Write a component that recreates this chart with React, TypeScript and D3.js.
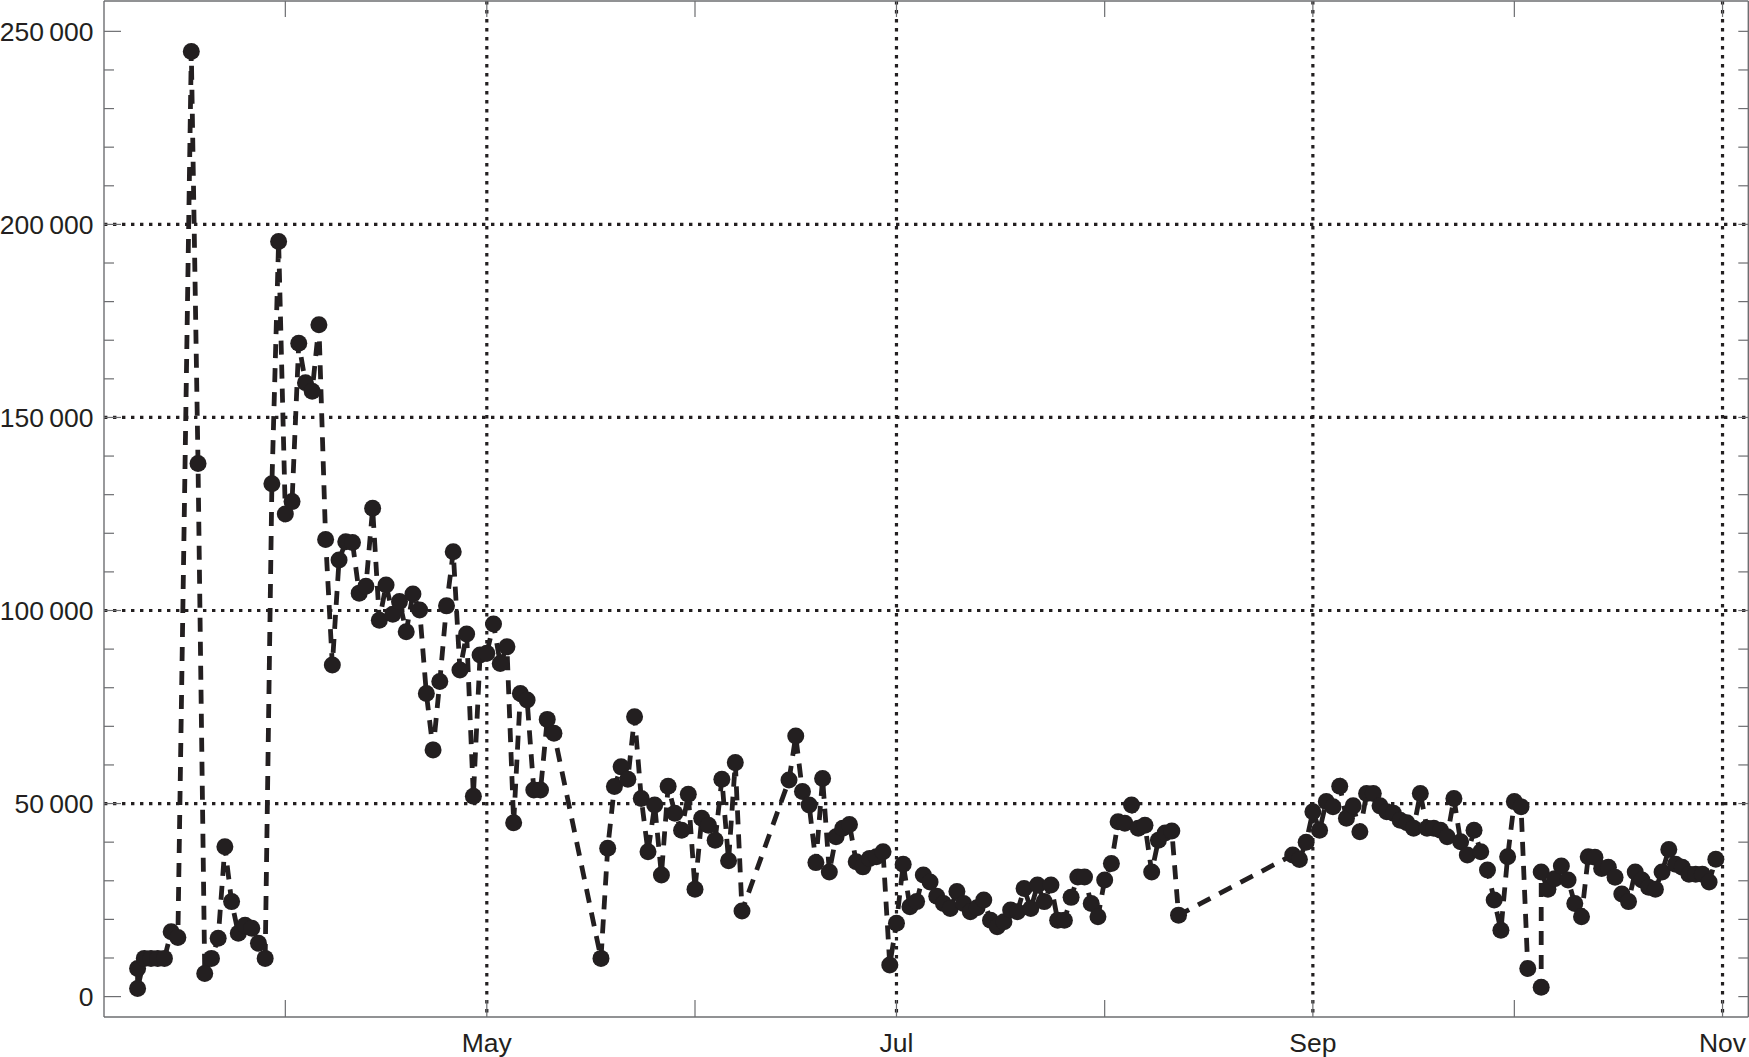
import React from "react";
import * as d3 from "d3";

const dates: string[] = [
  "2020-03-10","2020-03-10","2020-03-11","2020-03-12","2020-03-13","2020-03-14","2020-03-15","2020-03-16",
  "2020-03-18","2020-03-19","2020-03-20","2020-03-21","2020-03-22","2020-03-23","2020-03-24","2020-03-25",
  "2020-03-26","2020-03-27","2020-03-28","2020-03-29","2020-03-30","2020-03-31",
  "2020-04-01","2020-04-02","2020-04-03","2020-04-04","2020-04-05","2020-04-06","2020-04-07","2020-04-08",
  "2020-04-09","2020-04-10","2020-04-11","2020-04-12","2020-04-13","2020-04-14","2020-04-15","2020-04-16",
  "2020-04-17","2020-04-18","2020-04-19","2020-04-20","2020-04-21","2020-04-22","2020-04-23","2020-04-24",
  "2020-04-25","2020-04-26","2020-04-27","2020-04-28","2020-04-29","2020-04-30",
  "2020-05-01","2020-05-02","2020-05-03","2020-05-04","2020-05-05","2020-05-06","2020-05-07","2020-05-08",
  "2020-05-09","2020-05-10","2020-05-11",
  "2020-05-18","2020-05-19","2020-05-20","2020-05-21","2020-05-22","2020-05-23","2020-05-24","2020-05-25",
  "2020-05-26","2020-05-27","2020-05-28","2020-05-29","2020-05-30","2020-05-31",
  "2020-06-01","2020-06-02","2020-06-03","2020-06-04","2020-06-05","2020-06-06","2020-06-07","2020-06-08",
  "2020-06-15","2020-06-16","2020-06-17","2020-06-18","2020-06-19","2020-06-20","2020-06-21","2020-06-22",
  "2020-06-23","2020-06-24","2020-06-25","2020-06-26","2020-06-27","2020-06-28","2020-06-29","2020-06-30",
  "2020-07-01","2020-07-02","2020-07-03","2020-07-04","2020-07-05","2020-07-06","2020-07-07","2020-07-08",
  "2020-07-09","2020-07-10","2020-07-11","2020-07-12","2020-07-13","2020-07-14","2020-07-15","2020-07-16",
  "2020-07-17","2020-07-18","2020-07-19","2020-07-20","2020-07-21","2020-07-22","2020-07-23","2020-07-24",
  "2020-07-25","2020-07-26","2020-07-27","2020-07-28","2020-07-29","2020-07-30","2020-07-31",
  "2020-08-01","2020-08-02","2020-08-03","2020-08-04","2020-08-05","2020-08-06","2020-08-07","2020-08-08",
  "2020-08-09","2020-08-10","2020-08-11","2020-08-12",
  "2020-08-29","2020-08-30","2020-08-31",
  "2020-09-01","2020-09-02","2020-09-03","2020-09-04","2020-09-05","2020-09-06","2020-09-07","2020-09-08",
  "2020-09-09","2020-09-10","2020-09-11","2020-09-12","2020-09-13","2020-09-14","2020-09-15","2020-09-16",
  "2020-09-17","2020-09-18","2020-09-19","2020-09-20","2020-09-21","2020-09-22","2020-09-23","2020-09-24",
  "2020-09-25","2020-09-26","2020-09-27","2020-09-28","2020-09-29","2020-09-30",
  "2020-10-01","2020-10-02","2020-10-03","2020-10-05","2020-10-05","2020-10-06","2020-10-07","2020-10-08",
  "2020-10-09","2020-10-10","2020-10-11","2020-10-12","2020-10-13","2020-10-14","2020-10-15","2020-10-16",
  "2020-10-17","2020-10-18","2020-10-19","2020-10-20","2020-10-21","2020-10-22","2020-10-23","2020-10-24",
  "2020-10-25","2020-10-26","2020-10-27","2020-10-28","2020-10-29","2020-10-30","2020-10-31"
];

const values: number[] = [
  7300, 2100, 9900, 9900, 9900, 9900, 16800, 15300,
  244800, 138100, 6000, 9900, 15100, 38800, 24600, 16400,
  18500, 17700, 13800, 9900, 132800, 195600,
  125000, 128200, 169200, 159000, 156800, 174000, 118400, 85900,
  113100, 117800, 117600, 104500, 106300, 126500, 97500, 106600,
  99000, 102300, 94500, 104300, 100100, 78500, 63900, 81600,
  101200, 115200, 84600, 93900, 51900, 88500,
  88900, 96500, 86300, 90600, 45000, 78500, 76800, 53500,
  53500, 71800, 68200,
  9900, 38400, 54400, 59500, 56300, 72500, 51300, 37500,
  49600, 31500, 54500, 47500, 43100, 52400,
  27800, 46200, 44400, 40500, 56300, 35200, 60600, 22200,
  56100, 67500, 53100, 49600, 34700, 56500, 32300, 41400,
  43600, 44600, 34900, 33600, 35800, 36200, 37500, 8200,
  19000, 34300, 23300, 24600, 31500, 29700, 26000, 24100,
  22800, 27200, 24100, 22000, 23000, 25000, 19800, 18100,
  19400, 22400, 22000, 28000, 22800, 28900, 24600, 28900,
  19800, 19800, 25700, 31000, 31000, 24100, 20700,
  30200, 34500, 45300, 44900, 49600, 43600, 44400, 32300,
  40500, 42400, 42900, 21100,
  36700, 35500, 40000,
  47900, 43100, 50500, 49200, 54500, 46200, 49400, 42700,
  52600, 52600, 49400, 47900, 47500, 45700, 45000, 43600,
  52600, 43600, 43600, 43100, 41400, 51300, 40100, 36700,
  43100, 37500, 32800, 25000, 17200, 36200,
  50500, 49200, 7300, 2400, 32300, 27800, 30500, 33800,
  30200, 24100, 20700, 36200, 36100, 33200, 33500, 30900,
  26600, 24600, 32300, 30200, 28300, 27800, 32300, 38100,
  34300, 33500, 31700, 31700, 31700, 29700, 35600
];

const yMajorTicks: number[] = [0, 50000, 100000, 150000, 200000, 250000];
const yGridValues: number[] = [50000, 100000, 150000, 200000];
const monthTicks: string[] = ["2020-04-01", "2020-05-01", "2020-06-01", "2020-07-01", "2020-08-01", "2020-09-01", "2020-10-01", "2020-11-01"];
const monthLabels: string[] = ["2020-05-01", "2020-07-01", "2020-09-01", "2020-11-01"];
const xDomain: string[] = ["2020-03-05", "2020-11-05"];

const W = 1749;
const H = 1057;
const X0 = 104;
const X1 = 1749.4;
const YTOP = 1;
const YBOT = 1017;

const INK = "#231f20";
const FRAME = "#6d6e71";
const FONT = "'Liberation Sans', Arial, Helvetica, sans-serif";

const parse = d3.utcParse("%Y-%m-%d");
const fmt = (v: number) => d3.format(",")(v).replace(/,/g, "\u2009");
const monthName = d3.utcFormat("%b");

export default function App() {
  const x = d3.scaleUtc().domain(xDomain.map((s) => parse(s) as Date)).range([X0, X1]);
  const y = d3.scaleLinear().domain([0, 250000]).range([996.6, 31.35]);

  const pts = dates.map((d, i) => ({ date: parse(d) as Date, v: values[i] }));
  const line = d3
    .line<{ date: Date; v: number }>()
    .x((p) => x(p.date))
    .y((p) => y(p.v));

  const minorTicks = d3.range(0, 250001, 10000).filter((v) => v % 50000 !== 0);
  const xRight = 1748.3;

  return (
    <div style={{ position: "absolute", left: 0, top: 0, width: W, height: H, background: "#fff" }}>
      <svg width={W} height={H} style={{ display: "block" }}>
        <rect x={0} y={0} width={W} height={H} fill="#fff" />
        {yGridValues.map((v) => (
          <line
            key={"hg" + v}
            x1={X0}
            x2={xRight}
            y1={y(v)}
            y2={y(v)}
            stroke={INK}
            strokeWidth={3.2}
            strokeDasharray="3.4 5.6"
          />
        ))}
        {monthLabels.map((m) => (
          <line
            key={"vg" + m}
            x1={x(parse(m) as Date)}
            x2={x(parse(m) as Date)}
            y1={YTOP}
            y2={YBOT}
            stroke={INK}
            strokeWidth={3.2}
            strokeDasharray="3.4 5.6"
          />
        ))}
        <line x1={X0} x2={X0} y1={YTOP} y2={YBOT} stroke={FRAME} strokeWidth={1.4} />
        <line x1={X0} x2={xRight} y1={YBOT} y2={YBOT} stroke={FRAME} strokeWidth={1.4} />
        <line x1={X0} x2={xRight} y1={YTOP} y2={YTOP} stroke={FRAME} strokeWidth={1.4} />
        <line x1={xRight} x2={xRight} y1={YTOP} y2={YBOT} stroke={FRAME} strokeWidth={1.4} />
        {yMajorTicks.map((v) => (
          <line key={"ylM" + v} x1={X0} x2={X0 + 17} y1={y(v)} y2={y(v)} stroke={FRAME} strokeWidth={1.2} />
        ))}
        {minorTicks.map((v) => (
          <line key={"ylm" + v} x1={X0} x2={X0 + 10} y1={y(v)} y2={y(v)} stroke={FRAME} strokeWidth={1.2} />
        ))}
        {yMajorTicks.concat(minorTicks).map((v) => (
          <line key={"yr" + v} x1={xRight} x2={xRight - 10} y1={y(v)} y2={y(v)} stroke={FRAME} strokeWidth={1.2} />
        ))}
        {monthTicks.map((m) => {
          const xx = x(parse(m) as Date);
          return (
            <g key={"mt" + m}>
              <line x1={xx} x2={xx} y1={YBOT} y2={YBOT - 17} stroke={FRAME} strokeWidth={1.2} />
              <line x1={xx} x2={xx} y1={YTOP} y2={YTOP + 16} stroke={FRAME} strokeWidth={1.2} />
            </g>
          );
        })}
        {yMajorTicks.map((v) => (
          <text
            key={"yl" + v}
            x={93.5}
            y={y(v)}
            dy="0.36em"
            textAnchor="end"
            fontFamily={FONT}
            fontSize={26.5}
            fill={INK}
          >
            {fmt(v)}
          </text>
        ))}
        {monthLabels.map((m) => (
          <text
            key={"xl" + m}
            x={x(parse(m) as Date)}
            y={1051.5}
            textAnchor="middle"
            fontFamily={FONT}
            fontSize={26.5}
            fill={INK}
          >
            {monthName(parse(m) as Date)}
          </text>
        ))}
        <path
          d={line(pts) || ""}
          fill="none"
          stroke={INK}
          strokeWidth={4.8}
          strokeDasharray="14 10"
        />
        {pts.map((p, i) => (
          <circle key={"pt" + i} cx={x(p.date)} cy={y(p.v)} r={8.5} fill={INK} />
        ))}
      </svg>
    </div>
  );
}
